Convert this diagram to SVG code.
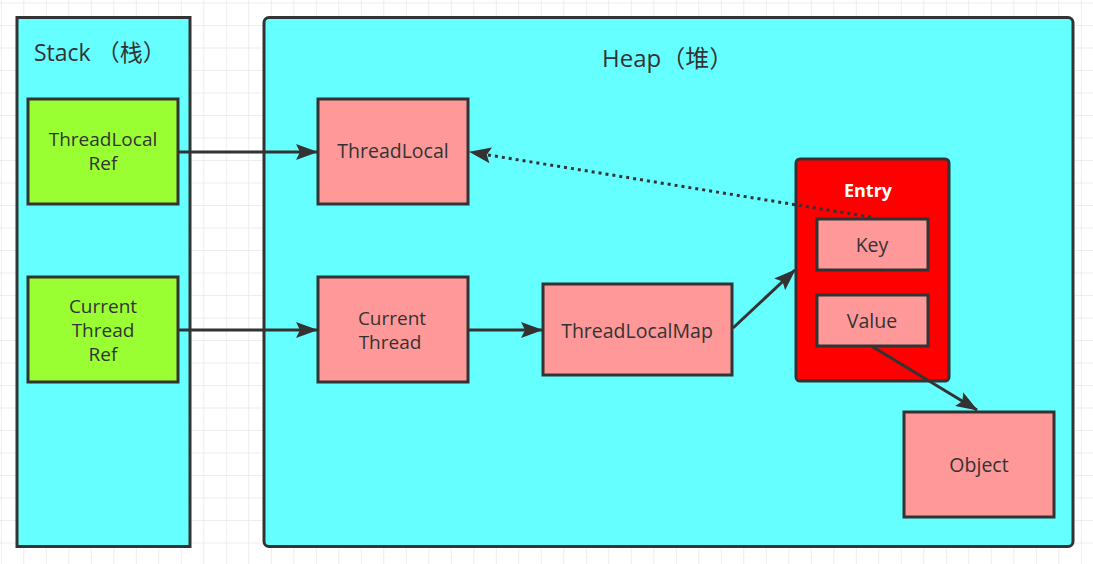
<svg xmlns="http://www.w3.org/2000/svg" width="1093" height="564" viewBox="0 0 1093 564">
<style>
.lbl{font-family:"Open Sans","Noto Sans","Noto Sans CJK SC",sans-serif;font-size:19px;fill:#333;text-anchor:middle}
.big{font-family:"Open Sans","Noto Sans","Noto Sans CJK SC",sans-serif;font-size:23px;fill:#333}
.box{stroke:#333;stroke-width:3}
.pink{fill:#ff9999}
.green{fill:#99ff33}
.cyan{fill:#66ffff}
.conn{stroke:#333;stroke-width:3;fill:none}
</style>
<defs>
<pattern id="grid" x="0.8" y="2.5" width="22.5" height="22.5" patternUnits="userSpaceOnUse">
<path d="M0 0H22.5M0 0V22.5" stroke="#e8e8e8" stroke-width="1.5" fill="none"/>
</pattern>
<marker id="arr" viewBox="0 0 22 16" refX="21" refY="8" markerWidth="22" markerHeight="16" markerUnits="userSpaceOnUse" orient="auto">
<path d="M0 0L22 8L0 16L4 8Z" fill="#333"/>
</marker>
</defs>
<rect width="1093" height="564" fill="#fff"/>
<rect width="1093" height="564" fill="url(#grid)"/>

<g id="stack">
<rect class="box cyan" x="17" y="17.5" width="173" height="529"/>
<text class="big" x="34" y="61">Stack （栈）</text>
</g>
<g id="heap">
<rect class="box cyan" x="264" y="17.5" width="809" height="529" rx="5"/>
<text class="big" x="602" y="67" style="font-size:24px">Heap（堆）</text>
</g>

<g id="threadlocal-ref">
<rect class="box green" x="28" y="99" width="150" height="105"/>
<text class="lbl" x="103" y="146">ThreadLocal</text>
<text class="lbl" x="103" y="170">Ref</text>
</g>
<g id="current-thread-ref">
<rect class="box green" x="28" y="277" width="150" height="105"/>
<text class="lbl" x="103" y="313">Current</text>
<text class="lbl" x="103" y="337">Thread</text>
<text class="lbl" x="103" y="361">Ref</text>
</g>
<g id="threadlocal">
<rect class="box pink" x="318" y="99" width="150" height="105"/>
<text class="lbl" x="393" y="158" style="font-size:19.5px">ThreadLocal</text>
</g>
<g id="current-thread">
<rect class="box pink" x="318" y="277" width="150" height="105"/>
<text class="lbl" x="392" y="325">Current</text>
<text class="lbl" x="390" y="349">Thread</text>
</g>
<g id="threadlocalmap">
<rect class="box pink" x="543" y="284" width="189" height="91"/>
<text class="lbl" x="637" y="338" style="font-size:19.5px">ThreadLocalMap</text>
</g>
<g id="entry">
<rect class="box" fill="#ff0000" x="796" y="159" width="153" height="222" rx="4"/>
<text class="lbl" x="868" y="197" style="fill:#fff;font-weight:bold;font-size:18px">Entry</text>
</g>
<g id="key">
<rect class="box pink" x="817" y="219" width="111" height="51"/>
<text class="lbl" x="872" y="252" style="font-size:19.5px">Key</text>
</g>
<g id="value">
<rect class="box pink" x="817" y="295" width="111" height="51"/>
<text class="lbl" x="872" y="328" style="font-size:19.5px">Value</text>
</g>
<g id="object">
<rect class="box pink" x="904" y="412" width="150" height="105"/>
<text class="lbl" x="979" y="472" style="font-size:19.5px">Object</text>
</g>

<g id="connectors">
<line class="conn" x1="179" y1="152" x2="317" y2="152" marker-end="url(#arr)"/>
<line class="conn" x1="179" y1="330" x2="317" y2="330" marker-end="url(#arr)"/>
<line class="conn" x1="469" y1="330" x2="542" y2="330" marker-end="url(#arr)"/>
<line class="conn" x1="733" y1="328" x2="795" y2="270" marker-end="url(#arr)"/>
<line class="conn" x1="873" y1="347" x2="977" y2="410" marker-end="url(#arr)"/>
<line class="conn" x1="871" y1="217" x2="470" y2="152" stroke-dasharray="3 4" marker-end="url(#arr)"/>
</g>
</svg>
